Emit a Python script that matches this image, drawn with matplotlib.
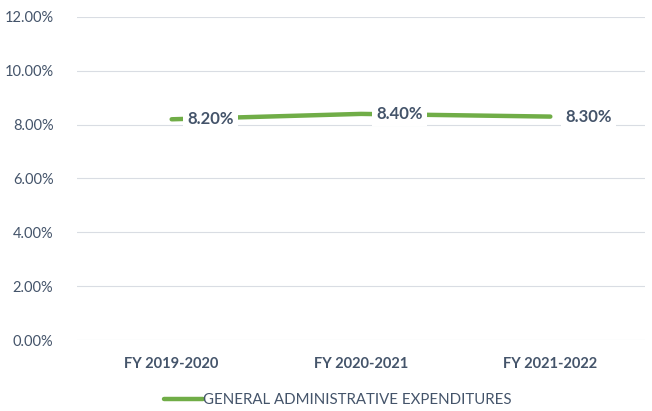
import matplotlib
matplotlib.use("Agg")
import matplotlib.pyplot as plt
from matplotlib.ticker import FuncFormatter

categories = ["FY 2019-2020", "FY 2020-2021", "FY 2021-2022"]
values = [8.20, 8.40, 8.30]
series_name = "GENERAL ADMINISTRATIVE EXPENDITURES"
yticks = [0, 2, 4, 6, 8, 10, 12]

plt.rcParams['font.family'] = ['Lato', 'DejaVu Sans']
text_color = "#44546A"
green = "#70AD47"

fig = plt.figure(figsize=(6.52, 4.11), dpi=100)
ax = fig.add_axes([77/652, 1-340/411, (645-77)/652, (340-17)/411])

x = list(range(len(categories)))
ax.plot(x, values, color=green, linewidth=3.2, solid_capstyle='round', label=series_name, zorder=2)
for xi, v in zip(x, values):
    ax.annotate(f"{v:.2f}%", (xi, v), xytext=(11, 0), textcoords='offset points',
                ha='left', va='center', fontsize=12, fontweight='bold', color=text_color,
                bbox=dict(boxstyle='square,pad=0.25', fc='white', ec='none'), zorder=3)

ax.set_xlim(-0.5, len(categories) - 0.5)
ax.set_ylim(0, 12)
ax.set_yticks(yticks)
ax.yaxis.set_major_formatter(FuncFormatter(lambda v, p: f"{v:.2f}%"))
ax.set_xticks(x)
ax.set_xticklabels(categories, fontweight='bold', fontsize=10.5, color=text_color)
ax.tick_params(axis='y', labelsize=10.5, labelcolor=text_color, length=0, pad=17)
ax.tick_params(axis='x', length=0, pad=12)
ax.grid(axis='y', color="#D9DDE3", linewidth=0.8, zorder=0)
ax.set_axisbelow(True)
for s in ax.spines.values():
    s.set_visible(False)

leg = fig.legend(loc='center', bbox_to_anchor=(338/652, 1-400/411), frameon=False,
                 fontsize=10.8, handlelength=2.6, handletextpad=0.0, labelcolor=text_color)

fig.savefig("out.png", dpi=100)
